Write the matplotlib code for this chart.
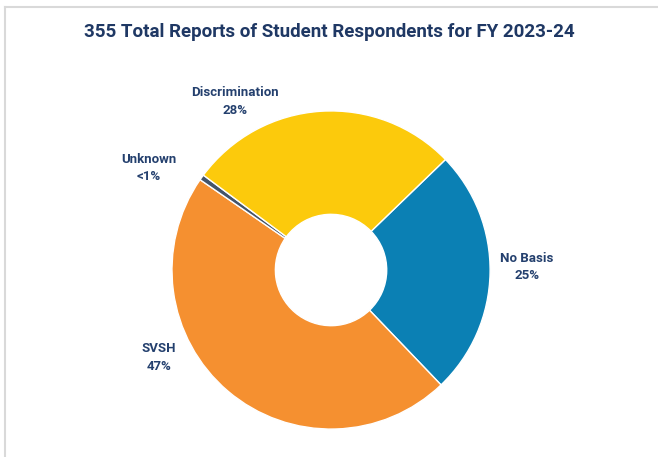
import matplotlib.pyplot as plt

categories = ["No Basis", "SVSH", "Unknown", "Discrimination"]
counts = [89, 166, 2, 98]
pct_labels = ["25%", "47%", "<1%", "28%"]
colors = ["#0b80b4", "#f59030", "#44546a", "#fcca0c"]
# label spots in data units (radius = 1)
label_pos = [(1.233, 0.02), (-1.082, -0.55), (-1.145, 0.64), (-0.604, 1.06)]

navy = "#1f3864"
plt.rcParams["font.family"] = ["Roboto", "DejaVu Sans"]

fig = plt.figure(figsize=(6.58, 4.57), dpi=100)
ax = fig.add_axes([0.1163, -0.1477, 0.7736, 1.1138])

ax.pie(counts, colors=colors, startangle=44, counterclock=False, radius=1,
       wedgeprops=dict(width=0.65, edgecolor="white", linewidth=1.0))

for cat, p, (x, y) in zip(categories, pct_labels, label_pos):
    ax.text(x, y, cat + "\n" + p, ha="center", va="center", fontsize=9.5,
            fontweight="bold", color="#24406e", linespacing=1.45)

ax.set_xlim(-1.6, 1.6)
ax.set_ylim(-1.6, 1.6)
ax.set_aspect("equal")
ax.axis("off")

fig.text(0.5, 0.93, "355 Total Reports of Student Respondents for FY 2023-24",
         ha="center", va="center", fontsize=13.5, fontweight="bold", color=navy)

# light frame on top and left (cropped slide)
fig.add_artist(plt.Line2D([0.008, 1], [0.985, 0.985], color="#d9d9d9", lw=1.5,
                          transform=fig.transFigure))
fig.add_artist(plt.Line2D([0.008, 0.008], [0, 0.985], color="#d9d9d9", lw=1.5,
                          transform=fig.transFigure))

fig.savefig("out.png", dpi=100)
